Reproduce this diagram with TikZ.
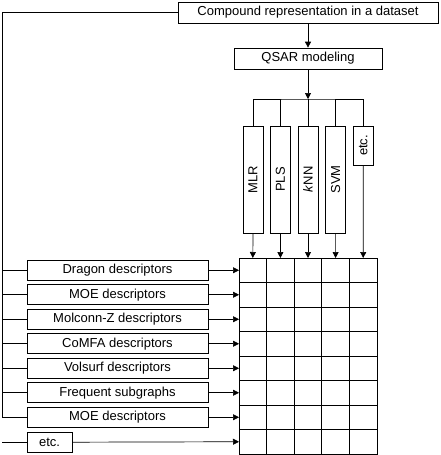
\documentclass[tikz,border=0pt]{standalone}
\usepackage{fontspec}
\setmainfont{Liberation Sans}
\usetikzlibrary{arrows.meta}

\begin{document}
\begin{tikzpicture}[x=1pt,y=-1pt,line width=0.7pt,
		box/.style={draw, fill=white, rectangle, inner sep=0pt, font=\fontsize{13}{15}\selectfont},
		method/.style={box, minimum width=20pt},
		desc/.style={box, minimum width=181pt, minimum height=20pt},
		arr/.style={-{Triangle[length=6pt,width=6pt]}}]
		% Fix the margins.
		\useasboundingbox (0,0) rectangle (440,455);
		
		% Draw top boxes.
		\node[box, minimum width=260pt, minimum height=21pt] (comp) at (308,12.5) {Compound representation in a dataset};
		\node[box, minimum width=148pt, minimum height=21pt] (qsar) at (308,58.5) {QSAR modeling};
		\draw[arr] (comp) -- (qsar);
		
		% Draw methods.
		\coordinate (bus) at (308,99);
		\foreach \name/\txt/\xx in {mlr/MLR/253, pls/PLS/280.4, knn/{\textit{k}NN}/308, svm/SVM/335.6}
			\node[method, minimum height=107pt] (\name) at (\xx,179.5) {\rotatebox{90}{\txt}};
		\node[method, minimum height=39pt] (etcm) at (363.2,145.5) {\rotatebox{90}{etc.}};
		\draw[arr] (qsar) -- (bus);
		\draw (mlr.north) |- (bus) -| (etcm.north);
		\foreach \name in {pls,knn,svm}
			\draw (\name.north) -- (\name.north |- bus);
		
		% Draw grid.
		\draw (239,258) rectangle (377,454);
		\foreach \i in {1,...,4}
			\draw ({239+27.6*\i},258) -- ({239+27.6*\i},454);
		\foreach \j in {1,...,7}
			\draw (239,{258+24.5*\j}) -- (377,{258+24.5*\j});
		\foreach \i in {1,...,5}
			\coordinate (top-\i) at ({239+27.6*(\i-0.5)},258);
		\foreach \j in {1,...,8}
			\coordinate (row-\j) at (239,{258+24.5*(\j-0.5)});
		
		% Connect methods and grid.
		\foreach \name/\i in {mlr/1,pls/2,knn/3,svm/4,etcm/5}
			\draw[arr] (\name.south) -- (top-\i);
		
		% Draw descriptors.
		\foreach \j/\txt in {1/Dragon descriptors, 2/MOE descriptors, 3/Molconn-Z descriptors, 4/CoMFA descriptors, 5/Volsurf descriptors, 6/Frequent subgraphs, 7/MOE descriptors}
		{
			\node[desc] (d\j) at (117.5,{258+24.5*(\j-0.5)}) {\txt};
			\draw[arr] (d\j) -- (row-\j);
		}
		\node[box, minimum width=45pt, minimum height=20pt] (d8) at (49.5,442.25) {etc.};
		\draw[arr] (d8) -- (row-8);
		
		% Connect compound box and descriptors.
		\coordinate (spine) at (2,12.5);
		\draw (comp.west) -- (spine) |- (d7.west);
		\foreach \j in {1,...,6}
			\draw (spine |- d\j.west) -- (d\j.west);
		\coordinate (etcin) at (2,442.25);
		\draw (etcin) -- (d8.west);
	\end{tikzpicture}
\end{document}
